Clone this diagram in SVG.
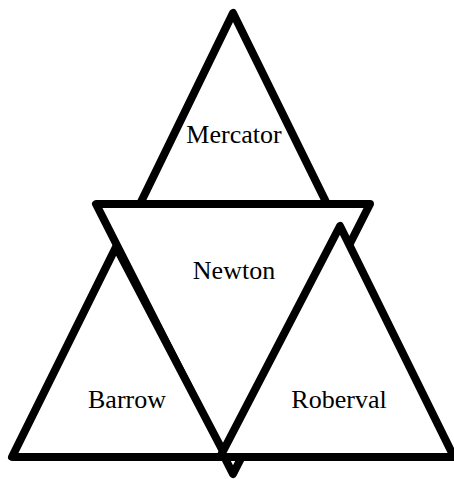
<svg xmlns="http://www.w3.org/2000/svg" width="454" height="479" viewBox="0 0 454 479">
<style>
.tri{fill:#fff;stroke:#000;stroke-width:8;stroke-linejoin:round}
.lbl{font-family:"Liberation Serif","Times New Roman",serif;font-size:26px;fill:#000;text-anchor:middle}
</style>
<rect width="454" height="479" fill="#fff"/>
<g id="mercator">
<polygon class="tri" points="233,13 140,204 327,204"/>
<text class="lbl" x="234" y="143">Mercator</text>
</g>
<g id="newton">
<polygon class="tri" points="96,204 370,204 233,474"/>
<text class="lbl" x="234" y="279">Newton</text>
</g>
<g id="barrow">
<polygon class="tri" points="116,247 12,457 226,457"/>
<text class="lbl" x="127" y="408">Barrow</text>
</g>
<g id="roberval">
<polygon class="tri" points="340,226 220,457 454,457"/>
<text class="lbl" x="339" y="408">Roberval</text>
</g>
<g id="connectors"></g>
</svg>
